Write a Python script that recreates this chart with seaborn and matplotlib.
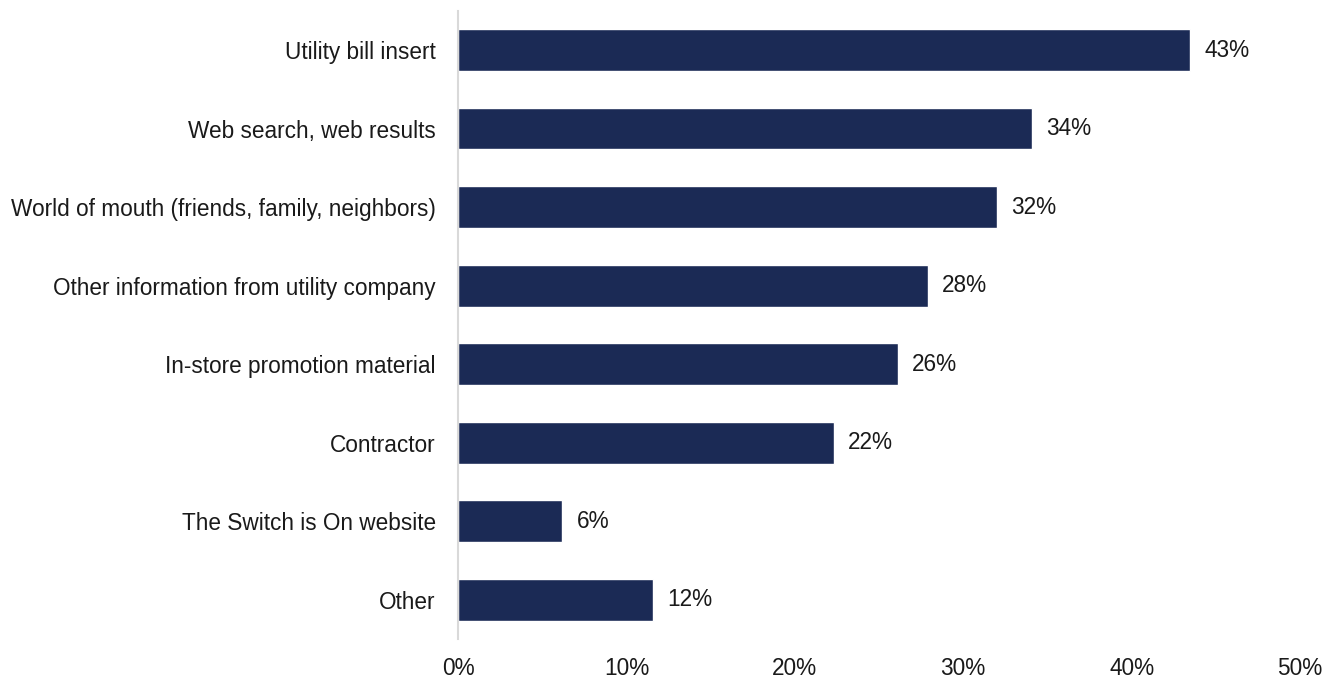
import matplotlib
matplotlib.use("Agg")
import matplotlib.pyplot as plt
import seaborn as sns
import pandas as pd

categories = [
    "Utility bill insert",
    "Web search, web results",
    "World of mouth (friends, family, neighbors)",
    "Other information from utility company",
    "In-store promotion material",
    "Contractor",
    "The Switch is On website",
    "Other",
]
values = [43.5, 34.1, 32.0, 27.9, 26.1, 22.3, 6.2, 11.6]
labels = ["43%", "34%", "32%", "28%", "26%", "22%", "6%", "12%"]
xticks = [0, 10, 20, 30, 40, 50]

sns.set_theme(style="white")
plt.rcParams["font.family"] = ["Liberation Sans", "DejaVu Sans"]

df = pd.DataFrame({"category": categories, "value": values})

fig = plt.figure(figsize=(13.3, 6.82), dpi=100)
ax = fig.add_axes([0.3444, 0.063, 0.633, 0.921])
sns.barplot(data=df, x="value", y="category", color="#1B2A55", width=0.53,
            saturation=1, ax=ax, orient="h")

fs = 16.3
for i, (v, lab) in enumerate(zip(values, labels)):
    ax.text(v + 0.85, i, lab, va="center", ha="left", fontsize=fs, color="#1a1a1a")

ax.set_xlim(0, 50)
ax.set_ylim(7.5, -0.5)
ax.set_xticks(xticks)
ax.set_xticklabels([f"{t}%" for t in xticks], fontsize=fs, color="#1a1a1a")
ax.tick_params(axis="y", labelsize=fs, colors="#1a1a1a", length=0, pad=16)
ax.tick_params(axis="x", length=0, pad=13)
ax.set_xlabel("")
ax.set_ylabel("")
for s in ["top", "right", "bottom"]:
    ax.spines[s].set_visible(False)
ax.spines["left"].set_color("#D9D9D9")
ax.spines["left"].set_linewidth(1.5)

fig.savefig("out.png", dpi=100)
